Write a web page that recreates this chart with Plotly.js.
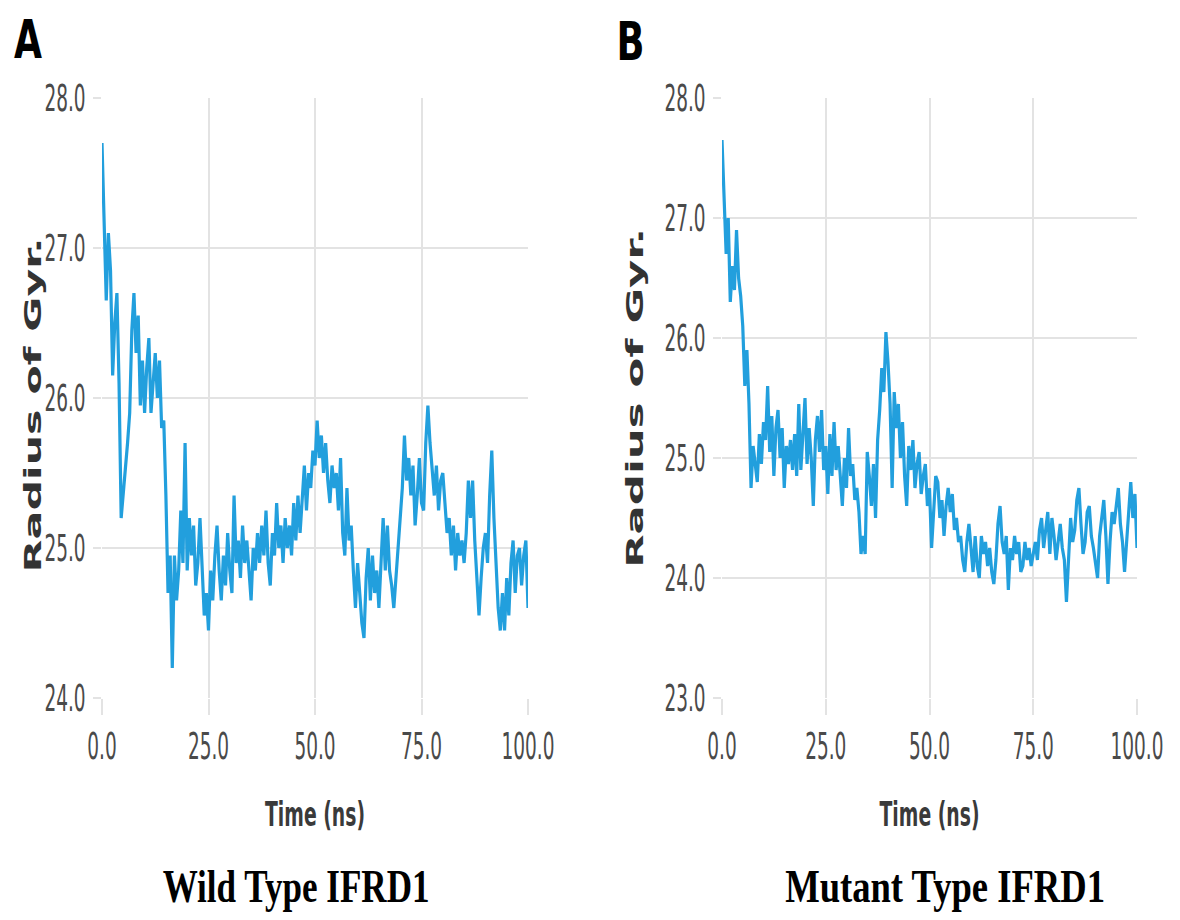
<!DOCTYPE html>
<html>
<head>
<meta charset="utf-8">
<script src="https://cdn.plot.ly/plotly-3.0.1.min.js"></script>
<style>
  body { margin: 0; padding: 0; background: #fff; }
  #chart { width: 1180px; height: 920px; }
</style>
</head>
<body>
<div id="chart"></div>
<script>
// Time axis (ns), sampled every 0.5 ns
const timeNs = [];
for (let i = 0; i <= 200; i++) timeNs.push(i * 0.5);

// Radius of gyration, wild type IFRD1 (panel A)
const rgWild = [
  27.7, 27.2, 26.65, 27.1, 26.85, 26.15, 26.5, 26.7, 26.1, 25.2,
  25.35, 25.55, 25.7, 25.9, 26.45, 26.7, 26.3, 26.55, 25.95, 26.25,
  25.9, 26.2, 26.4, 25.9, 26.1, 26.3, 26.0, 26.25, 25.8, 25.85,
  25.35, 24.7, 24.95, 24.2, 24.95, 24.65, 24.85, 25.25, 24.9, 25.7,
  24.85, 25.2, 24.95, 25.15, 24.75, 24.9, 25.2, 24.8, 24.55, 24.7,
  24.45, 24.85, 24.65, 24.95, 25.15, 24.85, 24.65, 24.95, 24.75, 25.1,
  24.85, 24.7, 25.35, 24.9, 25.05, 24.8, 25.15, 24.9, 25.05, 24.85,
  24.65, 25.0, 24.85, 25.1, 24.9, 25.15, 24.95, 25.25, 24.9, 24.75,
  25.1, 24.95, 25.3, 25.0, 25.15, 24.9, 25.2, 25.0, 25.15, 24.95,
  25.3, 25.05, 25.35, 25.1, 25.3, 25.55, 25.25, 25.5, 25.4, 25.65,
  25.55, 25.85, 25.6, 25.75, 25.5, 25.7, 25.45, 25.3, 25.55, 25.4,
  25.5, 25.25, 25.6, 25.1, 24.95, 25.4, 25.05, 25.15, 24.85, 24.6,
  24.9, 24.7, 24.5, 24.4, 24.8, 25.0, 24.65, 24.95, 24.7, 24.85,
  24.6, 24.9, 25.2, 24.85, 25.15, 24.85, 24.75, 24.6, 24.8, 25.0,
  25.2, 25.4, 25.75, 25.45, 25.6, 25.35, 25.55, 25.15, 25.35, 25.6,
  25.3, 25.25, 25.7, 25.95, 25.7, 25.5, 25.35, 25.55, 25.25, 25.45,
  25.5, 25.3, 25.1, 25.2, 24.95, 25.15, 24.85, 25.1, 24.95, 25.05,
  24.9, 25.1, 25.45, 25.2, 25.45, 25.05, 24.75, 24.55, 24.8, 25.0,
  25.1, 24.9, 25.35, 25.65, 25.2, 24.85, 24.6, 24.45, 24.7, 24.45,
  24.8, 24.55, 24.9, 25.05, 24.7, 24.95, 25.0, 24.75, 24.95, 25.05,
  24.6
];

// Radius of gyration, mutant type IFRD1 (panel B)
const rgMutant = [
  27.65, 27.1, 26.7, 27.0, 26.3, 26.6, 26.4, 26.9, 26.5, 26.35,
  26.1, 25.6, 25.9, 25.45, 24.75, 25.1, 24.95, 24.8, 25.2, 24.95,
  25.3, 25.15, 25.6, 25.05, 25.35, 24.85, 25.25, 25.4, 25.0, 25.25,
  24.75, 25.1, 24.95, 25.15, 24.9, 25.2, 24.85, 25.45, 24.9, 25.2,
  25.5, 24.95, 25.25, 25.0, 24.6, 25.15, 25.35, 25.05, 25.4, 24.9,
  25.1, 24.7, 25.2, 24.85, 25.3, 24.9, 25.1, 24.85, 24.6, 25.0,
  24.75, 25.25, 24.85, 24.95, 24.65, 24.75, 24.55, 24.2, 24.35, 24.2,
  25.05, 24.85, 24.6, 24.95, 24.5, 25.15, 25.4, 25.75, 25.55, 26.05,
  25.8, 25.45, 24.75, 25.55, 25.25, 25.45, 25.0, 25.3, 24.85, 24.6,
  25.1, 24.9, 25.15, 24.75, 24.95, 25.05, 24.7, 24.85, 24.95, 24.6,
  24.75, 24.25, 24.6, 24.85, 24.8, 24.5, 24.65, 24.35, 24.6, 24.75,
  24.55, 24.7, 24.4, 24.5, 24.3, 24.35, 24.15, 24.05, 24.3, 24.45,
  24.25, 24.05, 24.35, 24.1, 24.0, 24.35, 24.2, 24.3, 24.1, 24.25,
  24.05, 23.95, 24.15, 24.45, 24.6, 24.3, 24.2, 24.35, 23.9, 24.25,
  24.15, 24.35, 24.2, 24.3, 24.05, 24.1, 24.3, 24.15, 24.25, 24.1,
  24.2, 24.3, 24.15, 24.4, 24.5, 24.25, 24.4, 24.55, 24.2, 24.5,
  24.35, 24.15, 24.3, 24.45, 24.25, 24.15, 23.8, 24.15, 24.5, 24.3,
  24.4, 24.65, 24.75, 24.45, 24.2, 24.3, 24.55, 24.6, 24.35, 24.25,
  24.1, 24.0, 24.35, 24.5, 24.65, 24.35, 23.95, 24.3, 24.55, 24.45,
  24.6, 24.75, 24.45, 24.3, 24.05, 24.35, 24.55, 24.8, 24.5, 24.7,
  24.25
];

const xTickVals = [0, 25, 50, 75, 100];
const xTickText = ['0.0', '25.0', '50.0', '75.0', '100.0'];
const yTickValsA = [24, 25, 26, 27, 28];
const yTickTextA = ['24.0', '25.0', '26.0', '27.0', '28.0'];
const yTickValsB = [23, 24, 25, 26, 27, 28];
const yTickTextB = ['23.0', '24.0', '25.0', '26.0', '27.0', '28.0'];
const panelLabels = ['A', 'B'];
const panelCaptions = ['Wild Type IFRD1', 'Mutant Type IFRD1'];
const xTitle = 'Time (ns)';
const yTitle = 'Radius of Gyr.';

const lineColor = '#229fdd';
const gridColor = '#e3e3e3';
const sans = '"DejaVu Sans", sans-serif';
const tickFont = { family: sans, size: 37, color: '#4a4a4a' };
const xTitleFont = { family: sans, size: 34, color: '#3a3a3a', weight: 'bold' };
const yTitleFont = { family: sans, size: 23, color: '#333333', weight: 'bold' };
const letterFont = { family: sans, size: 54, color: '#000000', weight: 'bold' };
const captionFont = { family: '"Liberation Serif", "Times New Roman", serif', size: 46, color: '#000000', weight: 'bold' };

const traces = [
  { x: timeNs, y: rgWild, type: 'scatter', mode: 'lines', xaxis: 'x', yaxis: 'y',
    line: { color: lineColor, width: 3.2 }, showlegend: false, hoverinfo: 'skip' },
  { x: timeNs, y: rgMutant, type: 'scatter', mode: 'lines', xaxis: 'x2', yaxis: 'y2',
    line: { color: lineColor, width: 3.2 }, showlegend: false, hoverinfo: 'skip' }
];

function xAxis(domain, anchor) {
  return {
    domain: domain, anchor: anchor, range: [0, 100], tickvals: xTickVals, ticktext: xTickText,
    showgrid: true, gridcolor: gridColor, gridwidth: 2, zeroline: false, showline: false,
    ticks: 'outside', ticklen: 16, tickwidth: 2, tickcolor: gridColor, tickfont: tickFont,
    ticklabeloverflow: 'allow',
    title: { text: xTitle, font: xTitleFont, standoff: 34 }, automargin: false, fixedrange: true
  };
}
function yAxis(range, vals, text, anchor) {
  return {
    domain: [1 - 698 / 920, 1 - 98 / 920], anchor: anchor, range: range, tickvals: vals, ticktext: text,
    showgrid: true, gridcolor: gridColor, gridwidth: 2, zeroline: false, showline: false,
    ticks: 'outside', ticklen: 8, tickwidth: 2, tickcolor: gridColor, tickfont: tickFont,
    ticklabeloverflow: 'allow', automargin: false, fixedrange: true
  };
}

function ann(text, x, y, font, angle) {
  return { text: text, x: x / 1180, y: 1 - y / 920, xref: 'paper', yref: 'paper', showarrow: false,
    xanchor: 'center', yanchor: 'middle', textangle: angle || 0, font: font };
}

const layout = {
  width: 1180, height: 920,
  margin: { l: 0, r: 0, t: 0, b: 0 },
  paper_bgcolor: '#ffffff', plot_bgcolor: '#ffffff',
  showlegend: false,
  xaxis: xAxis([102 / 1180, 528 / 1180], 'y'),
  yaxis: yAxis([24, 28], yTickValsA, yTickTextA, 'x'),
  xaxis2: xAxis([722 / 1180, 1137 / 1180], 'y2'),
  yaxis2: yAxis([23, 28], yTickValsB, yTickTextB, 'x2'),
  annotations: [
    ann(panelLabels[0], 28, 40, letterFont),
    ann(panelLabels[1], 630, 42, letterFont),
    ann(panelCaptions[0], 296, 886, captionFont),
    ann(panelCaptions[1], 945, 886, captionFont),
    ann(yTitle, 33, 405, yTitleFont, -90),
    ann(yTitle, 635, 398, yTitleFont, -90)
  ]
};

// horizontal squeeze / stretch of a text element around its anchor point (the lettering is condensed)
function fitText(el, opts) {
  const L = el.getComputedTextLength();
  if (!L) return;
  const f = opts.length !== undefined ? opts.length / L : opts.factor;
  const ax = parseFloat(el.getAttribute('x')) || 0;
  const prev = el.getAttribute('transform') || '';
  el.setAttribute('transform', (prev + ' translate(' + ax + ',0) scale(' + f.toFixed(4) + ',1) translate(' + (-ax) + ',0)').trim());
}

Plotly.newPlot('chart', traces, layout, { staticPlot: true, displayModeBar: false }).then(function (gd) {
  gd.querySelectorAll('.xtick text, .x2tick text, .ytick text, .y2tick text').forEach(function (t) {
    fitText(t, { factor: 0.5 });
  });
  gd.querySelectorAll('.xtitle, .x2title').forEach(function (t) { fitText(t, { length: 100 }); });
  const annTexts = gd.querySelectorAll('.annotation-text');
  const targets = [28, 28, 267, 320, 335, 340];
  annTexts.forEach(function (t, i) { if (targets[i]) fitText(t, { length: targets[i] }); });
});
</script>
</body>
</html>
